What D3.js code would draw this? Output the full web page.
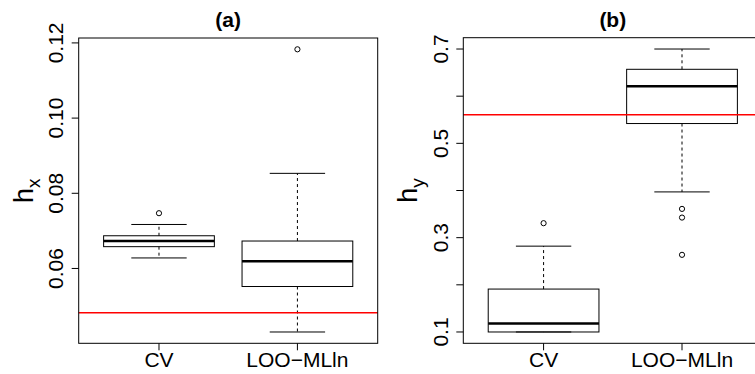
<!DOCTYPE html>
<html>
<head>
<meta charset="utf-8">
<script src="https://cdn.jsdelivr.net/npm/d3@7"></script>
<style>
  html, body { margin: 0; padding: 0; background: #fff; }
  svg { display: block; }
  text { font-family: "Liberation Sans", Arial, sans-serif; fill: #000; }
</style>
</head>
<body>
<svg id="chart" width="755" height="374"></svg>
<script>
// ---- data ----
const categories = ["CV", "LOO\u2212MLln"];

// panel (a): h_x
const hxLow  = [0.0628, 0.0431];
const hxQ1   = [0.0658, 0.0552];
const hxMed  = [0.0673, 0.0619];
const hxQ3   = [0.0687, 0.0673];
const hxHigh = [0.0717, 0.0853];
const hxOut  = [[0.0747], [0.1183]];
const hxTrue = 0.0482;
const hxTicks = [0.06, 0.08, 0.10, 0.12];
const hxTickLabels = ["0.06", "0.08", "0.10", "0.12"];

// panel (b): h_y
const hyLow  = [0.100, 0.397];
const hyQ1   = [0.100, 0.542];
const hyMed  = [0.118, 0.621];
const hyQ3   = [0.191, 0.657];
const hyHigh = [0.282, 0.700];
const hyOut  = [[0.3307], [0.361, 0.3426, 0.2636]];
const hyTrue = 0.5605;
const hyTicks = [0.1, 0.2, 0.3, 0.4, 0.5, 0.6, 0.7];
const hyTickLabels = ["0.1", "", "0.3", "", "0.5", "", "0.7"];

const svg = d3.select("#chart");

function panel(opts) {
  const { left, right, top, bottom, low, q1, med, q3, high, out, truth,
          ticks, tickLabels, title, sub } = opts;
  const g = svg.append("g");

  // x scale (R style: 0.5..n+0.5 extended by 4%)
  const n = categories.length;
  const xpad = (n) * 0.04;
  const x = d3.scaleLinear().domain([0.5 - xpad, n + 0.5 + xpad]).range([left, right]);

  // y scale from data extent extended by 4%
  const all = low.concat(high, ...out);
  const ymin = d3.min(all), ymax = d3.max(all);
  const ypad = (ymax - ymin) * 0.04;
  const y = d3.scaleLinear().domain([ymin - ypad, ymax + ypad]).range([bottom, top]);

  const bw = 0.8; // box width in x units
  categories.forEach((c, i) => {
    const xc = x(i + 1);
    const xl = x(i + 1 - bw / 2), xr = x(i + 1 + bw / 2);
    const cl = x(i + 1 - bw / 4), cr = x(i + 1 + bw / 4);
    // whiskers (dashed)
    g.append("line").attr("x1", xc).attr("x2", xc).attr("y1", y(q3[i])).attr("y2", y(high[i]))
      .attr("stroke", "#000").attr("stroke-width", 1).attr("stroke-dasharray", "3,3");
    g.append("line").attr("x1", xc).attr("x2", xc).attr("y1", y(q1[i])).attr("y2", y(low[i]))
      .attr("stroke", "#000").attr("stroke-width", 1).attr("stroke-dasharray", "3,3");
    // staples
    [low[i], high[i]].forEach(v => {
      g.append("line").attr("x1", cl).attr("x2", cr).attr("y1", y(v)).attr("y2", y(v))
        .attr("stroke", "#000").attr("stroke-width", 1);
    });
    // box
    g.append("rect").attr("x", xl).attr("y", y(q3[i]))
      .attr("width", xr - xl).attr("height", y(q1[i]) - y(q3[i]))
      .attr("fill", "none").attr("stroke", "#000").attr("stroke-width", 1);
    // median
    g.append("line").attr("x1", xl).attr("x2", xr).attr("y1", y(med[i])).attr("y2", y(med[i]))
      .attr("stroke", "#000").attr("stroke-width", 2.5);
    // outliers
    g.selectAll(null).data(out[i]).enter().append("circle")
      .attr("cx", xc).attr("cy", d => y(d)).attr("r", 2.6)
      .attr("fill", "none").attr("stroke", "#000").attr("stroke-width", 1);
    // x tick + label
    g.append("line").attr("x1", xc).attr("x2", xc).attr("y1", bottom).attr("y2", bottom + 7)
      .attr("stroke", "#000").attr("stroke-width", 1);
    g.append("text").attr("x", xc).attr("y", 366.5).attr("text-anchor", "middle")
      .attr("font-size", 21).text(c);
  });

  // reference (true) line
  g.append("line").attr("x1", left).attr("x2", right).attr("y1", y(truth)).attr("y2", y(truth))
    .attr("stroke", "#ff0000").attr("stroke-width", 1.5);

  // frame
  g.append("rect").attr("x", left).attr("y", top).attr("width", right - left).attr("height", bottom - top)
    .attr("fill", "none").attr("stroke", "#000").attr("stroke-width", 1);

  // y ticks
  ticks.forEach((t, k) => {
    g.append("line").attr("x1", left - 7).attr("x2", left).attr("y1", y(t)).attr("y2", y(t))
      .attr("stroke", "#000").attr("stroke-width", 1);
    if (tickLabels[k]) {
      g.append("text").attr("transform", `translate(${left - 15.4},${y(t)}) rotate(-90)`)
        .attr("text-anchor", "middle").attr("font-size", 21).text(tickLabels[k]);
    }
  });

  // y label
  const lab = g.append("text")
    .attr("transform", `translate(${left - 46},${(top + bottom) / 2}) rotate(-90)`)
    .attr("text-anchor", "middle").attr("font-size", 27);
  lab.append("tspan").text("h");
  lab.append("tspan").attr("font-size", 19).attr("dy", 7).text(sub);

  // title
  g.append("text").attr("x", (left + right) / 2).attr("y", 26.5).attr("text-anchor", "middle")
    .attr("font-size", 21).attr("font-weight", "bold").text(title);
}

panel({ left: 78.7, right: 377.7, top: 38, bottom: 343.3,
  low: hxLow, q1: hxQ1, med: hxMed, q3: hxQ3, high: hxHigh, out: hxOut, truth: hxTrue,
  ticks: hxTicks, tickLabels: hxTickLabels, title: "(a)", sub: "x" });

panel({ left: 463.3, right: 762.3, top: 37.7, bottom: 343.3,
  low: hyLow, q1: hyQ1, med: hyMed, q3: hyQ3, high: hyHigh, out: hyOut, truth: hyTrue,
  ticks: hyTicks, tickLabels: hyTickLabels, title: "(b)", sub: "y" });
</script>
</body>
</html>
